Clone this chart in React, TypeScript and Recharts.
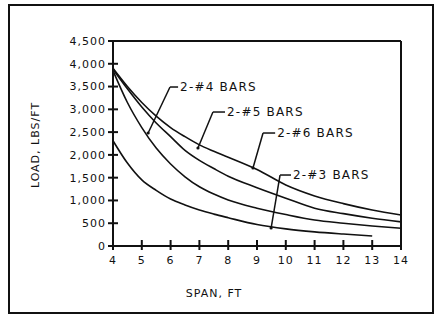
import React from "react";
import {
  LineChart,
  Line,
  XAxis,
  YAxis,
  ReferenceLine,
  ReferenceDot,
  Label,
} from "recharts";

// span in feet
const spans = [4, 4.5, 5, 5.5, 6, 6.5, 7, 7.5, 8, 9, 10, 11, 12, 13, 14];

// allowable load, lbs/ft
const bars6 = [3900, 3500, 3150, 2850, 2600, 2400, 2220, 2080, 1950, 1680, 1340, 1100, 930, 790, 680];
const bars5 = [3880, 3450, 3050, 2700, 2400, 2100, 1880, 1700, 1530, 1280, 1050, 830, 710, 610, 530];
const bars4 = [3850, 3150, 2600, 2150, 1800, 1520, 1300, 1140, 1010, 830, 690, 570, 500, 440, 390];
const bars3 = [2310, 1820, 1450, 1220, 1030, 900, 790, 700, 620, 470, 375, 310, 262, 220, null];

const xTicks = [4, 5, 6, 7, 8, 9, 10, 11, 12, 13, 14];
const yTicks = [0, 500, 1000, 1500, 2000, 2500, 3000, 3500, 4000, 4500];

// callouts: label text, label anchor, leader elbow, leader tip (span, load)
const callouts = [
  { text: "2-#4 BARS", at: [6.26, 3490], elbow: [5.98, 3490], tip: [5.22, 2480] },
  { text: "2-#5 BARS", at: [7.89, 2941], elbow: [7.47, 2941], tip: [6.95, 2151] },
  { text: "2-#6 BARS", at: [9.63, 2480], elbow: [9.21, 2480], tip: [8.86, 1712] },
  { text: "2-#3 BARS", at: [10.18, 1558], elbow: [9.8, 1558], tip: [9.49, 395] },
];

const data = spans.map((s, i) => ({
  span: s,
  b6: bars6[i],
  b5: bars5[i],
  b4: bars4[i],
  b3: bars3[i],
}));

const INK = "#111";
const FONT = "'DejaVu Sans', sans-serif";

const fmt = (v: number) => v.toLocaleString("en-US");

const YTick = (props: any) => {
  const { x, y, payload } = props;
  return (
    <g>
      <line x1={x - 5} y1={y} x2={x + 5} y2={y} stroke={INK} strokeWidth={2} />
      <text
        x={x - 7}
        y={y}
        dy="0.35em"
        textAnchor="end"
        fontSize={11}
        letterSpacing={1}
        fontFamily={FONT}
        fill={INK}
      >
        {fmt(payload.value)}
      </text>
    </g>
  );
};

const XTick = (props: any) => {
  const { x, y, payload } = props;
  return (
    <g>
      <line x1={x} y1={y - 6} x2={x} y2={y + 4} stroke={INK} strokeWidth={2} />
      <text
        x={x}
        y={y + 14}
        dy="0.35em"
        textAnchor="middle"
        fontSize={11}
        letterSpacing={1}
        fontFamily={FONT}
        fill={INK}
      >
        {payload.value}
      </text>
    </g>
  );
};

export default function App() {
  return (
    <div
      style={{
        position: "absolute",
        left: 0,
        top: 0,
        width: 437,
        height: 316,
        background: "#fff",
      }}
    >
      <div
        style={{
          position: "absolute",
          left: 8,
          top: 4,
          width: 426,
          height: 310,
          boxSizing: "border-box",
          border: `2px solid ${INK}`,
        }}
      />
      <div style={{ position: "absolute", left: 0, top: 0 }}>
        <LineChart
          width={437}
          height={316}
          data={data}
          margin={{ top: 41, right: 36, bottom: 40, left: 53 }}
        >
          <XAxis
            dataKey="span"
            type="number"
            domain={[4, 14]}
            ticks={xTicks}
            interval={0}
            tickSize={0}
            tickLine={false}
            tickMargin={0}
            tick={<XTick />}
            height={30}
            axisLine={{ stroke: INK, strokeWidth: 2 }}
          />
          <YAxis
            type="number"
            domain={[0, 4500]}
            ticks={yTicks}
            interval={0}
            tickSize={0}
            tickLine={false}
            tickMargin={0}
            tick={<YTick />}
            width={60}
            axisLine={{ stroke: INK, strokeWidth: 2 }}
          />
          <ReferenceLine y={4500} stroke={INK} strokeWidth={2} />
          <ReferenceLine x={14} stroke={INK} strokeWidth={2} />

          <Line dataKey="b6" type="monotone" stroke={INK} strokeWidth={1.6} dot={false} isAnimationActive={false} />
          <Line dataKey="b5" type="monotone" stroke={INK} strokeWidth={1.6} dot={false} isAnimationActive={false} />
          <Line dataKey="b4" type="monotone" stroke={INK} strokeWidth={1.6} dot={false} isAnimationActive={false} />
          <Line dataKey="b3" type="monotone" stroke={INK} strokeWidth={1.6} dot={false} isAnimationActive={false} connectNulls={false} />

          {callouts.map((c) => (
            <ReferenceLine
              key={c.text + "-h"}
              segment={[
                { x: c.elbow[0], y: c.elbow[1] },
                { x: c.at[0], y: c.at[1] },
              ]}
              stroke={INK}
              strokeWidth={1.5}
              ifOverflow="visible"
            />
          ))}
          {callouts.map((c) => (
            <ReferenceLine
              key={c.text + "-d"}
              segment={[
                { x: c.elbow[0], y: c.elbow[1] },
                { x: c.tip[0], y: c.tip[1] },
              ]}
              stroke={INK}
              strokeWidth={1.5}
              ifOverflow="visible"
            />
          ))}
          {callouts.map((c) => (
            <ReferenceDot
              key={c.text + "-tip"}
              x={c.tip[0]}
              y={c.tip[1]}
              r={1.6}
              fill={INK}
              stroke="none"
              ifOverflow="visible"
            />
          ))}
          {callouts.map((c) => (
            <ReferenceDot
              key={c.text + "-lbl"}
              x={c.at[0]}
              y={c.at[1]}
              r={0}
              fill="none"
              stroke="none"
              ifOverflow="visible"
            >
              <Label
                value={c.text}
                position="right"
                offset={2}
                fontSize={12}
                letterSpacing={1.2}
                fontFamily={FONT}
                fill={INK}
              />
            </ReferenceDot>
          ))}
        </LineChart>
      </div>
      <div
        style={{
          position: "absolute",
          left: 214,
          top: 293,
          transform: "translate(-50%, -50%)",
          fontFamily: FONT,
          fontSize: 11,
          letterSpacing: 1,
          color: INK,
          whiteSpace: "nowrap",
        }}
      >
        SPAN, FT
      </div>
      <div
        style={{
          position: "absolute",
          left: 35,
          top: 145,
          transform: "translate(-50%, -50%) rotate(-90deg)",
          fontFamily: FONT,
          fontSize: 11,
          letterSpacing: 1,
          color: INK,
          whiteSpace: "nowrap",
        }}
      >
        LOAD, LBS/FT
      </div>
    </div>
  );
}
